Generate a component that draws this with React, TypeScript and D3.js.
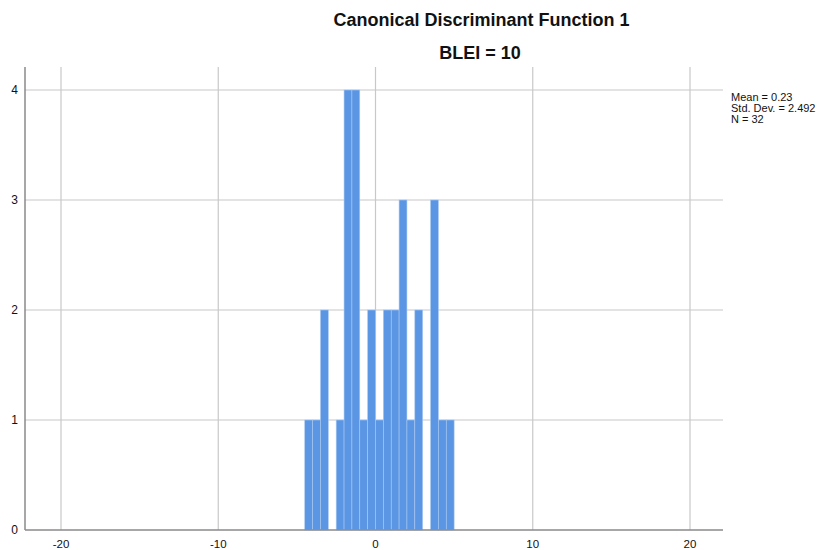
import React from "react";
import * as d3 from "d3";

const binStarts = [-4.5, -4, -3.5, -3, -2.5, -2, -1.5, -1, -0.5, 0, 0.5, 1, 1.5, 2, 2.5, 3, 3.5, 4, 4.5];
const counts = [1, 1, 2, 0, 1, 4, 4, 1, 2, 1, 2, 2, 3, 1, 2, 0, 3, 1, 1];
const binWidth = 0.5;
const xTicks = [-20, -10, 0, 10, 20];
const yTicks = [0, 1, 2, 3, 4];
const titleLines = ["Canonical Discriminant Function 1", "BLEI = 10"];
const statsLines = ["Mean = 0.23", "Std. Dev. = 2.492", "N = 32"];

export default function App() {
  const W = 828, H = 550;
  const left = 25, right = 723, top = 67, bottom = 530;
  const x = d3.scaleLinear().domain([-20, 20]).range([61, 690]);
  const y = d3.scaleLinear().domain([0, 4]).range([bottom, 90]);
  const font = "Arial, 'Liberation Sans', sans-serif";
  return (
    <svg width={W} height={H} style={{ position: "absolute", left: 0, top: 0 }} fontFamily={font}>
      <rect width={W} height={H} fill="#fff" />
      {yTicks.filter(t => t > 0).map(t => (
        <line key={"gy" + t} x1={left} x2={right} y1={y(t)} y2={y(t)} stroke="#c8c8c8" strokeWidth={1.2} />
      ))}
      {xTicks.map(t => (
        <line key={"gx" + t} x1={x(t)} x2={x(t)} y1={top} y2={bottom} stroke="#c8c8c8" strokeWidth={1.2} />
      ))}
      {binStarts.map((b, i) => counts[i] > 0 ? (
        <rect key={"b" + i} x={x(b)} y={y(counts[i])} width={x(b + binWidth) - x(b)} height={bottom - y(counts[i])}
          fill="#5a96e3" stroke="#a9c8f0" strokeWidth={0.6} />
      ) : null)}
      <line x1={left} x2={left} y1={top} y2={bottom} stroke="#8a8a8a" strokeWidth={1.5} />
      <line x1={left} x2={right} y1={bottom} y2={bottom} stroke="#8a8a8a" strokeWidth={1.5} />
      {yTicks.map(t => (
        <text key={"ty" + t} x={18} y={y(t)} dy="0.35em" textAnchor="end" fontSize={12} fill="#111">{t}</text>
      ))}
      {xTicks.map(t => (
        <text key={"tx" + t} x={x(t)} y={547.5} textAnchor="middle" fontSize={11.5} fill="#111">{t}</text>
      ))}
      <text x={481.5} y={26} textAnchor="middle" fontSize={18} fontWeight="bold" fill="#111">{titleLines[0]}</text>
      <text x={480} y={59} textAnchor="middle" fontSize={18} fontWeight="bold" fill="#111">{titleLines[1]}</text>
      {statsLines.map((s, i) => (
        <text key={"s" + i} x={731} y={101 + i * 11} fontSize={11} fill="#111">{s}</text>
      ))}
    </svg>
  );
}
